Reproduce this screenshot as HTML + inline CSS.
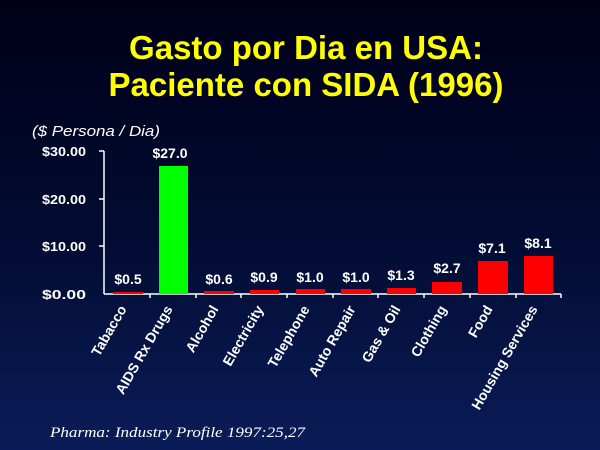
<!DOCTYPE html>
<html><head><style>
html,body{margin:0;padding:0;}
body{width:600px;height:450px;overflow:hidden;background:linear-gradient(180deg,#000018 0%,#020b30 50%,#0a1c58 100%);}
</style></head><body>
<svg width="600" height="450" xmlns="http://www.w3.org/2000/svg" style="position:absolute;left:0;top:0">
<g font-family="Liberation Sans, sans-serif" font-weight="bold" fill="#ffff00" font-size="33" text-anchor="middle">
<text x="306" y="59">Gasto por Dia en USA:</text>
<text x="306" y="96">Paciente con SIDA (1996)</text>
</g>
<text x="32" y="136" font-family="Liberation Sans, sans-serif" font-style="italic" font-size="15" fill="#fff" textLength="128" lengthAdjust="spacingAndGlyphs">($ Persona / Dia)</text>
<g font-family="Liberation Sans, sans-serif" font-weight="bold" font-size="13" fill="#fff" text-anchor="end">
<text x="86" y="156" textLength="44" lengthAdjust="spacingAndGlyphs">$30.00</text>
<text x="86" y="204" textLength="44" lengthAdjust="spacingAndGlyphs">$20.00</text>
<text x="86" y="251" textLength="44" lengthAdjust="spacingAndGlyphs">$10.00</text>
<text x="86" y="299" textLength="44" lengthAdjust="spacingAndGlyphs">$0.00</text>
</g>
<g stroke="#fff" stroke-width="1.5" fill="none">
<line x1="104" y1="151" x2="104" y2="294"/>
<line x1="104" y1="294" x2="561" y2="294"/>
<line x1="99" y1="151" x2="104" y2="151"/>
<line x1="99" y1="199" x2="104" y2="199"/>
<line x1="99" y1="246" x2="104" y2="246"/>
<line x1="150" y1="294" x2="150" y2="298"/><line x1="196" y1="294" x2="196" y2="298"/><line x1="241" y1="294" x2="241" y2="298"/><line x1="287" y1="294" x2="287" y2="298"/><line x1="333" y1="294" x2="333" y2="298"/><line x1="378" y1="294" x2="378" y2="298"/><line x1="424" y1="294" x2="424" y2="298"/><line x1="470" y1="294" x2="470" y2="298"/><line x1="516" y1="294" x2="516" y2="298"/><line x1="561" y1="294" x2="561" y2="298"/>
</g>
<g fill="#ff0000">
<rect x="113" y="292" width="30" height="2"/>
<rect x="159" y="166" width="29" height="128" fill="#00ff00"/>
<rect x="204" y="291" width="30" height="3"/>
<rect x="250" y="290" width="29" height="4"/>
<rect x="296" y="289" width="29" height="5"/>
<rect x="341" y="289" width="30" height="5"/>
<rect x="387" y="288" width="29" height="6"/>
<rect x="432" y="282" width="30" height="12"/>
<rect x="478" y="261" width="30" height="33"/>
<rect x="524" y="256" width="29" height="38"/>
</g>
<g font-family="Liberation Sans, sans-serif" font-weight="bold" font-size="14" fill="#fff" text-anchor="middle">
<text x="128" y="284">$0.5</text>
<text x="170" y="158">$27.0</text>
<text x="219" y="284">$0.6</text>
<text x="264" y="282">$0.9</text>
<text x="310" y="282">$1.0</text>
<text x="356" y="282">$1.0</text>
<text x="401" y="280">$1.3</text>
<text x="447" y="273">$2.7</text>
<text x="492" y="253">$7.1</text>
<text x="538" y="248">$8.1</text>
</g>
<g font-family="Liberation Sans, sans-serif" font-weight="bold" font-size="14" fill="#fff" text-anchor="end">
<text transform="translate(127,309) rotate(-60)">Tabacco</text>
<text transform="translate(173,309) rotate(-60)">AIDS Rx Drugs</text>
<text transform="translate(219,309) rotate(-60)">Alcohol</text>
<text transform="translate(264,309) rotate(-60)">Electricity</text>
<text transform="translate(310,309) rotate(-60)">Telephone</text>
<text transform="translate(356,309) rotate(-60)">Auto Repair</text>
<text transform="translate(401,309) rotate(-60)">Gas &amp; Oil</text>
<text transform="translate(447,309) rotate(-60)">Clothing</text>
<text transform="translate(493,309) rotate(-60)">Food</text>
<text transform="translate(538,309) rotate(-60)">Housing Services</text>
</g>
<text x="50" y="437" font-family="Liberation Serif, serif" font-style="italic" font-size="15" fill="#fff" textLength="255" lengthAdjust="spacingAndGlyphs">Pharma: Industry Profile 1997:25,27</text>
</svg>
</body></html>
